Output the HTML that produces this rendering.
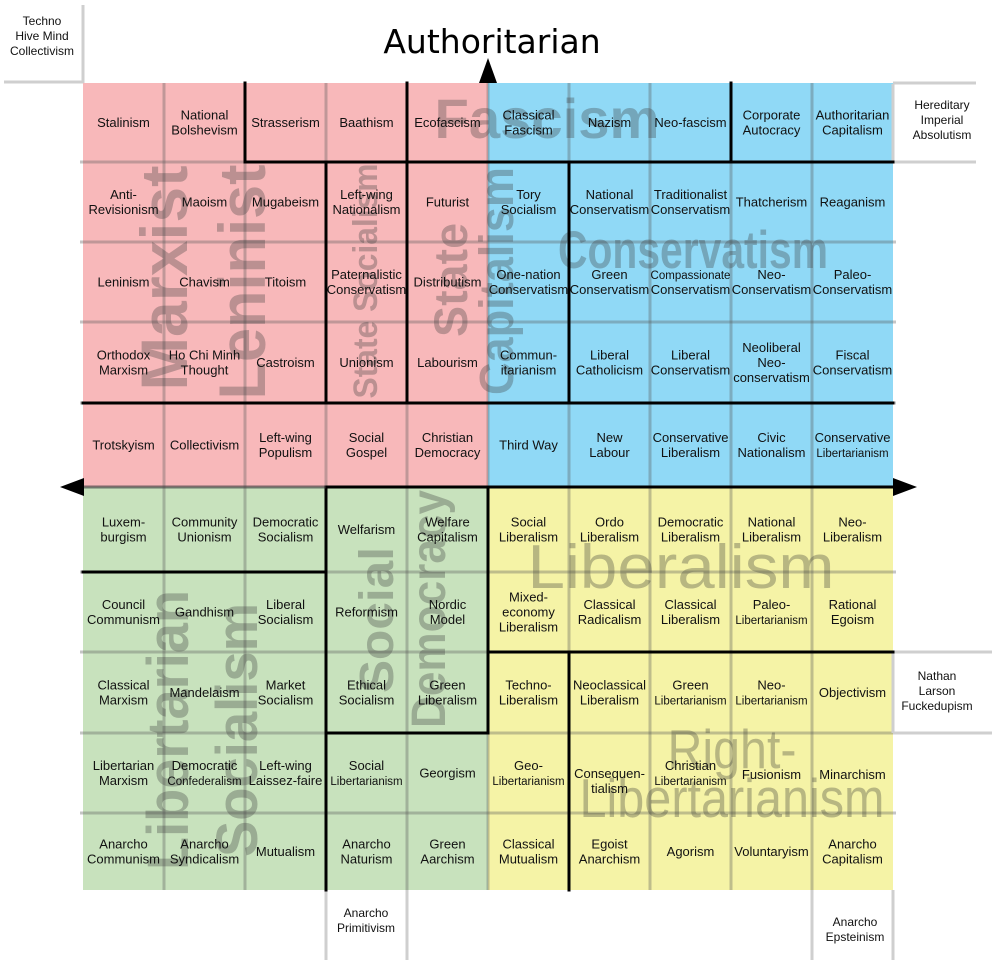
<!DOCTYPE html>
<html><head><meta charset="utf-8"><style>
html,body{margin:0;padding:0;background:#fff;}
svg{display:block;}
.c{font-family:"Liberation Sans",Arial,sans-serif;font-size:13px;fill:#111;text-anchor:middle;}
.s{font-size:11.5px;}
.w{font-family:"Liberation Sans",Arial,sans-serif;font-weight:bold;fill:rgba(60,60,60,0.32);text-anchor:middle;}
.wl{font-family:"Liberation Sans",Arial,sans-serif;fill:rgba(70,70,60,0.35);text-anchor:middle;}
</style></head><body>
<svg width="992" height="960" viewBox="0 0 992 960" xmlns="http://www.w3.org/2000/svg">
<rect width="992" height="960" fill="#fff"/>
<rect x="83" y="83" width="405" height="404" fill="#f8b8ba"/>
<rect x="488" y="83" width="405" height="404" fill="#90d9f6"/>
<rect x="83" y="487" width="405" height="403" fill="#c8e2bd"/>
<rect x="488" y="487" width="405" height="403" fill="#f5f3a6"/>
<g stroke="rgba(90,90,90,0.35)" stroke-width="3">
<line x1="164" y1="83" x2="164" y2="890"/><line x1="245" y1="83" x2="245" y2="890"/>
<line x1="326" y1="83" x2="326" y2="890"/><line x1="407" y1="83" x2="407" y2="890"/>
<line x1="488" y1="83" x2="488" y2="890"/><line x1="569" y1="83" x2="569" y2="890"/>
<line x1="650" y1="83" x2="650" y2="890"/><line x1="731" y1="83" x2="731" y2="890"/>
<line x1="812" y1="83" x2="812" y2="890"/>
<line x1="80" y1="162" x2="896" y2="162"/><line x1="80" y1="242" x2="896" y2="242"/>
<line x1="80" y1="322" x2="896" y2="322"/><line x1="80" y1="403" x2="896" y2="403"/>
<line x1="80" y1="487" x2="896" y2="487"/><line x1="80" y1="572" x2="896" y2="572"/>
<line x1="80" y1="652" x2="896" y2="652"/><line x1="80" y1="733" x2="896" y2="733"/>
<line x1="80" y1="813" x2="896" y2="813"/>
</g>
<g stroke="#cfcfcf" stroke-width="3" fill="none">
<line x1="83" y1="5" x2="83" y2="83"/><line x1="4" y1="82" x2="83" y2="82"/>
<line x1="893" y1="83" x2="976" y2="83"/><line x1="893" y1="162" x2="976" y2="162"/>
<line x1="893" y1="84" x2="893" y2="162"/>
<line x1="893" y1="652" x2="992" y2="652"/><line x1="893" y1="733" x2="992" y2="733"/>
<line x1="893" y1="652" x2="893" y2="733"/>
<line x1="326" y1="890" x2="326" y2="960"/><line x1="407" y1="890" x2="407" y2="960"/>
<line x1="812" y1="890" x2="812" y2="960"/><line x1="893" y1="890" x2="893" y2="960"/>
</g>
<text class="w" font-size="56" x="547" y="138" textLength="225" lengthAdjust="spacingAndGlyphs">Fascism</text>
<text class="w" font-size="53" x="693" y="268" textLength="270" lengthAdjust="spacingAndGlyphs">Conservatism</text>
<text class="w" font-size="48" transform="translate(513,281) rotate(-90)" textLength="228" lengthAdjust="spacingAndGlyphs">Capitalism</text>
<text class="w" font-size="47" transform="translate(467,280) rotate(-90)" textLength="114" lengthAdjust="spacingAndGlyphs">State</text>
<text class="w" font-size="66" transform="translate(187,278) rotate(-90)" textLength="225" lengthAdjust="spacingAndGlyphs">Marxist</text>
<text class="w" font-size="66" transform="translate(265,282) rotate(-90)" textLength="235" lengthAdjust="spacingAndGlyphs">Leninist</text>
<text class="w" font-size="34" transform="translate(377,281) rotate(-90)" textLength="235" lengthAdjust="spacingAndGlyphs">State Socialism</text>
<text class="w" font-size="58" transform="translate(188,730) rotate(-90)" textLength="280" lengthAdjust="spacingAndGlyphs">Libertarian</text>
<text class="w" font-size="58" transform="translate(257,730) rotate(-90)" textLength="254" lengthAdjust="spacingAndGlyphs">Socialism</text>
<text class="w" font-size="48" transform="translate(393,620) rotate(-90)" textLength="146" lengthAdjust="spacingAndGlyphs">Social</text>
<text class="w" font-size="48" transform="translate(445,609) rotate(-90)" textLength="238" lengthAdjust="spacingAndGlyphs">Democracy</text>
<text class="wl" font-size="62" x="681" y="588" textLength="307" lengthAdjust="spacingAndGlyphs">Liberalism</text>
<text class="wl" font-size="55" x="732" y="768" textLength="129" lengthAdjust="spacingAndGlyphs">Right-</text>
<text class="wl" font-size="55" x="732" y="817" textLength="305" lengthAdjust="spacingAndGlyphs">Libertarianism</text>
<g stroke="#000" stroke-width="3" stroke-linecap="square">
<line x1="245" y1="83" x2="245" y2="162"/>
<line x1="407" y1="83" x2="407" y2="403"/>
<line x1="245" y1="162" x2="893" y2="162"/>
<line x1="326" y1="162" x2="326" y2="403"/>
<line x1="569" y1="162" x2="569" y2="403"/>
<line x1="731" y1="83" x2="731" y2="162"/>
<line x1="83" y1="403" x2="893" y2="403"/>
<line x1="326" y1="487" x2="893" y2="487"/>
<line x1="326" y1="487" x2="326" y2="890"/>
<line x1="83" y1="572" x2="326" y2="572"/>
<line x1="326" y1="733" x2="488" y2="733"/>
<line x1="488" y1="487" x2="488" y2="733"/>
<line x1="488" y1="652" x2="893" y2="652"/>
<line x1="569" y1="652" x2="569" y2="890"/>
</g>
<line x1="83" y1="487" x2="326" y2="487" stroke="rgba(60,60,60,0.5)" stroke-width="3"/>
<polygon points="488,58 479,83 497,83" fill="#000"/>
<polygon points="60,487 84,478 84,496" fill="#000"/>
<polygon points="917,487 893,478 893,496" fill="#000"/>
<text x="492" y="53" font-family="DejaVu Sans, sans-serif" font-size="33" text-anchor="middle" fill="#000">Authoritarian</text>
<text class="c" x="42" y="25" style="font-size:12px">Techno<tspan x="42" dy="15">Hive Mind</tspan><tspan x="42" dy="15">Collectivism</tspan></text>
<text class="c" x="942" y="109" style="font-size:12px">Hereditary<tspan x="942" dy="15">Imperial</tspan><tspan x="942" dy="15">Absolutism</tspan></text>
<text class="c" x="937" y="680" style="font-size:12px">Nathan<tspan x="937" dy="15">Larson</tspan><tspan x="937" dy="15">Fuckedupism</tspan></text>
<text class="c" x="366" y="917" style="font-size:12px">Anarcho<tspan x="366" dy="15">Primitivism</tspan></text>
<text class="c" x="855" y="926" style="font-size:12px">Anarcho<tspan x="855" dy="15">Epsteinism</tspan></text>
<text class="c" x="123.5" y="127">Stalinism</text>
<text class="c" x="204.5" y="119.5">National<tspan x="204.5" dy="15">Bolshevism</tspan></text>
<text class="c" x="285.5" y="127">Strasserism</text>
<text class="c" x="366.5" y="127">Baathism</text>
<text class="c" x="447.5" y="127">Ecofascism</text>
<text class="c" x="528.5" y="119.5">Classical<tspan x="528.5" dy="15">Fascism</tspan></text>
<text class="c" x="609.5" y="127">Nazism</text>
<text class="c" x="690.5" y="127">Neo-fascism</text>
<text class="c" x="771.5" y="119.5">Corporate<tspan x="771.5" dy="15">Autocracy</tspan></text>
<text class="c" x="852.5" y="119.5">Authoritarian<tspan x="852.5" dy="15">Capitalism</tspan></text>
<text class="c" x="123.5" y="199">Anti-<tspan x="123.5" dy="15">Revisionism</tspan></text>
<text class="c" x="204.5" y="206.5">Maoism</text>
<text class="c" x="285.5" y="206.5">Mugabeism</text>
<text class="c" x="366.5" y="199">Left-wing<tspan x="366.5" dy="15">Nationalism</tspan></text>
<text class="c" x="447.5" y="206.5">Futurist</text>
<text class="c" x="528.5" y="199">Tory<tspan x="528.5" dy="15">Socialism</tspan></text>
<text class="c" x="609.5" y="199">National<tspan x="609.5" dy="15">Conservatism</tspan></text>
<text class="c" x="690.5" y="199">Traditionalist<tspan x="690.5" dy="15">Conservatism</tspan></text>
<text class="c" x="771.5" y="206.5">Thatcherism</text>
<text class="c" x="852.5" y="206.5">Reaganism</text>
<text class="c" x="123.5" y="286.5">Leninism</text>
<text class="c" x="204.5" y="286.5">Chavism</text>
<text class="c" x="285.5" y="286.5">Titoism</text>
<text class="c" x="366.5" y="279">Paternalistic<tspan x="366.5" dy="15">Conservatism</tspan></text>
<text class="c" x="447.5" y="286.5">Distributism</text>
<text class="c" x="528.5" y="279">One-nation<tspan x="528.5" dy="15">Conservatism</tspan></text>
<text class="c" x="609.5" y="279">Green<tspan x="609.5" dy="15">Conservatism</tspan></text>
<text class="c" x="690.5" y="279"><tspan class="s">Compassionate</tspan><tspan x="690.5" dy="15">Conservatism</tspan></text>
<text class="c" x="771.5" y="279">Neo-<tspan x="771.5" dy="15">Conservatism</tspan></text>
<text class="c" x="852.5" y="279">Paleo-<tspan x="852.5" dy="15">Conservatism</tspan></text>
<text class="c" x="123.5" y="359.5">Orthodox<tspan x="123.5" dy="15">Marxism</tspan></text>
<text class="c" x="204.5" y="359.5">Ho Chi Minh<tspan x="204.5" dy="15">Thought</tspan></text>
<text class="c" x="285.5" y="367">Castroism</text>
<text class="c" x="366.5" y="367">Unionism</text>
<text class="c" x="447.5" y="367">Labourism</text>
<text class="c" x="528.5" y="359.5">Commun-<tspan x="528.5" dy="15">itarianism</tspan></text>
<text class="c" x="609.5" y="359.5">Liberal<tspan x="609.5" dy="15">Catholicism</tspan></text>
<text class="c" x="690.5" y="359.5">Liberal<tspan x="690.5" dy="15">Conservatism</tspan></text>
<text class="c" x="771.5" y="352">Neoliberal<tspan x="771.5" dy="15">Neo-</tspan><tspan x="771.5" dy="15">conservatism</tspan></text>
<text class="c" x="852.5" y="359.5">Fiscal<tspan x="852.5" dy="15">Conservatism</tspan></text>
<text class="c" x="123.5" y="449.5">Trotskyism</text>
<text class="c" x="204.5" y="449.5">Collectivism</text>
<text class="c" x="285.5" y="442">Left-wing<tspan x="285.5" dy="15">Populism</tspan></text>
<text class="c" x="366.5" y="442">Social<tspan x="366.5" dy="15">Gospel</tspan></text>
<text class="c" x="447.5" y="442">Christian<tspan x="447.5" dy="15">Democracy</tspan></text>
<text class="c" x="528.5" y="449.5">Third Way</text>
<text class="c" x="609.5" y="442">New<tspan x="609.5" dy="15">Labour</tspan></text>
<text class="c" x="690.5" y="442">Conservative<tspan x="690.5" dy="15">Liberalism</tspan></text>
<text class="c" x="771.5" y="442">Civic<tspan x="771.5" dy="15">Nationalism</tspan></text>
<text class="c" x="852.5" y="442">Conservative<tspan x="852.5" dy="15" class="s">Libertarianism</tspan></text>
<text class="c" x="123.5" y="526.5">Luxem-<tspan x="123.5" dy="15">burgism</tspan></text>
<text class="c" x="204.5" y="526.5">Community<tspan x="204.5" dy="15">Unionism</tspan></text>
<text class="c" x="285.5" y="526.5">Democratic<tspan x="285.5" dy="15">Socialism</tspan></text>
<text class="c" x="366.5" y="534">Welfarism</text>
<text class="c" x="447.5" y="526.5">Welfare<tspan x="447.5" dy="15">Capitalism</tspan></text>
<text class="c" x="528.5" y="526.5">Social<tspan x="528.5" dy="15">Liberalism</tspan></text>
<text class="c" x="609.5" y="526.5">Ordo<tspan x="609.5" dy="15">Liberalism</tspan></text>
<text class="c" x="690.5" y="526.5">Democratic<tspan x="690.5" dy="15">Liberalism</tspan></text>
<text class="c" x="771.5" y="526.5">National<tspan x="771.5" dy="15">Liberalism</tspan></text>
<text class="c" x="852.5" y="526.5">Neo-<tspan x="852.5" dy="15">Liberalism</tspan></text>
<text class="c" x="123.5" y="609">Council<tspan x="123.5" dy="15">Communism</tspan></text>
<text class="c" x="204.5" y="616.5">Gandhism</text>
<text class="c" x="285.5" y="609">Liberal<tspan x="285.5" dy="15">Socialism</tspan></text>
<text class="c" x="366.5" y="616.5">Reformism</text>
<text class="c" x="447.5" y="609">Nordic<tspan x="447.5" dy="15">Model</tspan></text>
<text class="c" x="528.5" y="601.5">Mixed-<tspan x="528.5" dy="15">economy</tspan><tspan x="528.5" dy="15">Liberalism</tspan></text>
<text class="c" x="609.5" y="609">Classical<tspan x="609.5" dy="15">Radicalism</tspan></text>
<text class="c" x="690.5" y="609">Classical<tspan x="690.5" dy="15">Liberalism</tspan></text>
<text class="c" x="771.5" y="609">Paleo-<tspan x="771.5" dy="15" class="s">Libertarianism</tspan></text>
<text class="c" x="852.5" y="609">Rational<tspan x="852.5" dy="15">Egoism</tspan></text>
<text class="c" x="123.5" y="689.5">Classical<tspan x="123.5" dy="15">Marxism</tspan></text>
<text class="c" x="204.5" y="697">Mandelaism</text>
<text class="c" x="285.5" y="689.5">Market<tspan x="285.5" dy="15">Socialism</tspan></text>
<text class="c" x="366.5" y="689.5">Ethical<tspan x="366.5" dy="15">Socialism</tspan></text>
<text class="c" x="447.5" y="689.5">Green<tspan x="447.5" dy="15">Liberalism</tspan></text>
<text class="c" x="528.5" y="689.5">Techno-<tspan x="528.5" dy="15">Liberalism</tspan></text>
<text class="c" x="609.5" y="689.5">Neoclassical<tspan x="609.5" dy="15">Liberalism</tspan></text>
<text class="c" x="690.5" y="689.5">Green<tspan x="690.5" dy="15" class="s">Libertarianism</tspan></text>
<text class="c" x="771.5" y="689.5">Neo-<tspan x="771.5" dy="15" class="s">Libertarianism</tspan></text>
<text class="c" x="852.5" y="697">Objectivism</text>
<text class="c" x="123.5" y="770">Libertarian<tspan x="123.5" dy="15">Marxism</tspan></text>
<text class="c" x="204.5" y="770">Democratic<tspan x="204.5" dy="15" class="s">Confederalism</tspan></text>
<text class="c" x="285.5" y="770">Left-wing<tspan x="285.5" dy="15">Laissez-faire</tspan></text>
<text class="c" x="366.5" y="770">Social<tspan x="366.5" dy="15" class="s">Libertarianism</tspan></text>
<text class="c" x="447.5" y="777.5">Georgism</text>
<text class="c" x="528.5" y="770">Geo-<tspan x="528.5" dy="15" class="s">Libertarianism</tspan></text>
<text class="c" x="609.5" y="778">Consequen-<tspan x="609.5" dy="15">tialism</tspan></text>
<text class="c" x="690.5" y="770">Christian<tspan x="690.5" dy="15" class="s">Libertarianism</tspan></text>
<text class="c" x="771.5" y="779">Fusionism</text>
<text class="c" x="852.5" y="779">Minarchism</text>
<text class="c" x="123.5" y="848.5">Anarcho<tspan x="123.5" dy="15">Communism</tspan></text>
<text class="c" x="204.5" y="848.5">Anarcho<tspan x="204.5" dy="15">Syndicalism</tspan></text>
<text class="c" x="285.5" y="856">Mutualism</text>
<text class="c" x="366.5" y="848.5">Anarcho<tspan x="366.5" dy="15">Naturism</tspan></text>
<text class="c" x="447.5" y="848.5">Green<tspan x="447.5" dy="15">Aarchism</tspan></text>
<text class="c" x="528.5" y="848.5">Classical<tspan x="528.5" dy="15">Mutualism</tspan></text>
<text class="c" x="609.5" y="848.5">Egoist<tspan x="609.5" dy="15">Anarchism</tspan></text>
<text class="c" x="690.5" y="856">Agorism</text>
<text class="c" x="771.5" y="856">Voluntaryism</text>
<text class="c" x="852.5" y="848.5">Anarcho<tspan x="852.5" dy="15">Capitalism</tspan></text>
</svg>
</body></html>
